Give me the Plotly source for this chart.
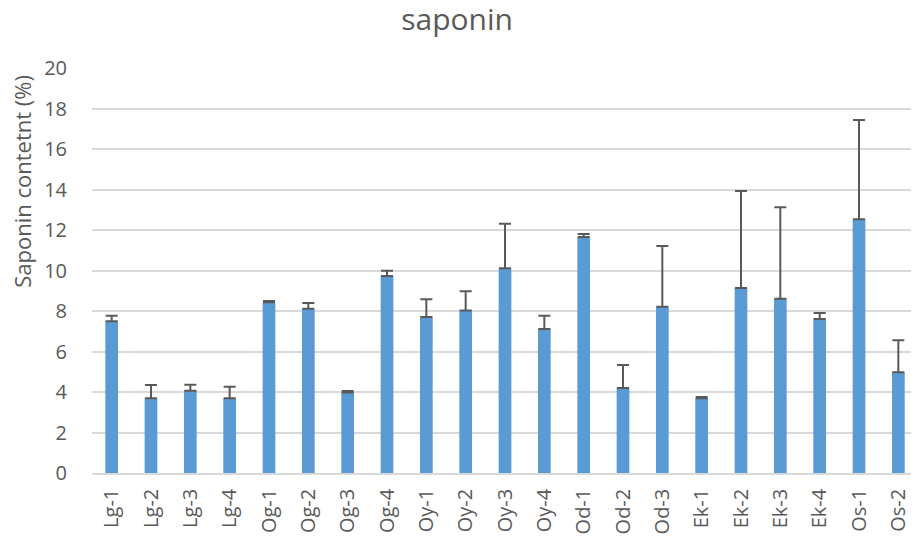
import plotly.graph_objects as go

categories = ["Lg-1", "Lg-2", "Lg-3", "Lg-4", "Og-1", "Og-2", "Og-3", "Og-4",
              "Oy-1", "Oy-2", "Oy-3", "Oy-4", "Od-1", "Od-2", "Od-3",
              "Ek-1", "Ek-2", "Ek-3", "Ek-4", "Os-1", "Os-2"]
saponin = [7.5, 3.69, 4.06, 3.69, 8.43, 8.11, 3.98, 9.73,
           7.70, 8.02, 10.11, 7.11, 11.65, 4.20, 8.21,
           3.69, 9.14, 8.61, 7.60, 12.53, 4.97]
sd = [0.27, 0.66, 0.30, 0.57, 0.07, 0.29, 0.07, 0.26,
      0.88, 0.95, 2.20, 0.66, 0.15, 1.13, 3.00,
      0.06, 4.79, 4.51, 0.30, 4.90, 1.58]
y_ticks = [0, 2, 4, 6, 8, 10, 12, 14, 16, 18, 20]

font_family = "Open Sans, Liberation Sans, sans-serif"
grey = "#595959"

fig = go.Figure(go.Bar(
    x=categories,
    y=saponin,
    marker=dict(color="#5B9BD5", line=dict(width=0)),
    error_y=dict(type="data", array=sd, arrayminus=[0] * len(sd),
                 symmetric=False, color=grey, thickness=2, width=6),
))

fig.update_layout(
    width=911, height=529,
    paper_bgcolor="white", plot_bgcolor="white",
    margin=dict(l=84, r=1, t=60, b=64, autoexpand=False),
    bargap=0.677,
    showlegend=False,
    title=dict(text="saponin", x=0.493, xanchor="center", xref="container",
               y=0.978, yanchor="middle", yref="container",
               font=dict(family=font_family, size=30, color=grey)),
    font=dict(family=font_family, color=grey),
    annotations=[dict(
        text="Saponin contetnt (%)", textangle=-90,
        xref="paper", yref="paper", x=-0.085, y=0.721,
        xanchor="center", yanchor="middle", showarrow=False,
        font=dict(family=font_family, size=22, color=grey),
    )],
)
fig.update_xaxes(
    tickangle=-90, tickfont=dict(size=20, color=grey),
    showgrid=False, showline=True, linecolor="#D9D9D9", linewidth=1.5,
    ticks="", ticklen=0, ticklabelstandoff=6, automargin=False,
)
fig.update_yaxes(
    range=[0, 20], tickvals=y_ticks, ticktext=[str(v) for v in y_ticks],
    tickfont=dict(size=20, color=grey),
    showgrid=True, gridcolor="#D9D9D9", gridwidth=1.5,
    zeroline=False, showline=False, ticks="", ticklabelstandoff=24,
    automargin=False,
)

fig.write_html("out.html")
